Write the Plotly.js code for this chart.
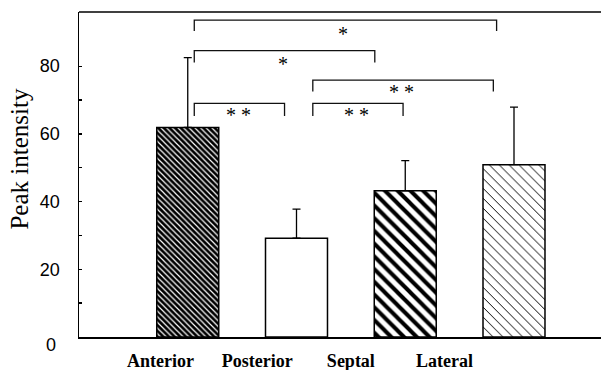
<!DOCTYPE html>
<html>
<head>
<meta charset="utf-8">
<script src="https://cdn.plot.ly/plotly-3.0.1.min.js"></script>
<style>html,body{margin:0;padding:0;background:#fff;overflow:hidden;width:601px;height:370px;}#chart{width:631px;height:370px;}</style>
</head>
<body>
<div id="chart"></div>
<script>
// ---- data ----
const categories = ['Anterior', 'Posterior', 'Septal', 'Lateral'];
const peakMean = [61.9, 29.2, 43.2, 50.9];
const peakSD = [20.6, 8.6, 8.9, 17.0];
// x-axis label positions as printed (offset from bars in the original)
const labelPos = [-0.25, 0.64, 1.50, 2.36];
const yTickVals = [0, 10, 20, 30, 40, 50, 60, 70, 80];
const yTickText = ['0', '', '20', '', '40', '', '60', '', '80'];
const yTitle = 'Peak intensity';
// significance brackets
const brLeft = [0.06, 0.06, 1.15, 0.06, 1.15];
const brRight = [2.84, 1.72, 2.81, 0.89, 1.98];
const brTop = [93.6, 84.6, 75.9, 69.0, 69.0];
const brLeg = [90.4, 81.1, 72.5, 65.3, 65.3];
const brMark = ['*', '*', '* *', '* *', '* *'];
const markX = [1.43, 0.88, 1.97, 0.47, 1.55];
const markY = [89.6, 80.7, 72.3, 65.6, 65.6];

// ---- styles ----
const patterns = [
  {shape: '\\', size: 4, solidity: 0.3, fgcolor: '#ffffff', bgcolor: '#000000', fillmode: 'overlay', fgopacity: 1},
  {shape: '', bgcolor: '#ffffff'},
  {shape: '\\', size: 9, solidity: 0.45, fgcolor: '#000000', bgcolor: '#ffffff', fillmode: 'overlay', fgopacity: 1},
  {shape: '\\', size: 7, solidity: 0.14, fgcolor: '#000000', bgcolor: '#ffffff', fillmode: 'overlay', fgopacity: 1}
];

const traces = categories.map((c, i) => ({
  type: 'bar',
  x: [i],
  y: [peakMean[i]],
  width: 0.57,
  name: c,
  marker: {color: '#ffffff', line: {color: '#000', width: 1.5}, pattern: patterns[i]},
  error_y: {type: 'data', symmetric: false, array: [peakSD[i]], arrayminus: [0], color: '#000', thickness: 1.3, width: 4},
  showlegend: false,
  hoverinfo: 'skip'
}));

const shapes = brLeft.map((l, i) => ({
  type: 'path', xref: 'x', yref: 'y',
  path: `M ${l} ${brLeg[i]} L ${l} ${brTop[i]} L ${brRight[i]} ${brTop[i]} L ${brRight[i]} ${brLeg[i]}`,
  line: {color: '#111', width: 1.3}
}));
// top frame line
shapes.push({type: 'line', xref: 'paper', yref: 'paper', x0: 0, x1: 1, y0: 1, y1: 1, line: {color: '#000', width: 1.5}});

const annotations = brMark.map((m, i) => ({
  xref: 'x', yref: 'y', x: markX[i], y: markY[i], text: m, showarrow: false,
  font: {family: 'Liberation Serif, Times New Roman, serif', size: 20, color: '#000'},
  xanchor: 'center', yanchor: 'middle'
}));
annotations.push({
  xref: 'paper', yref: 'y', x: 0, y: yTickVals[0], text: yTickText[0], showarrow: false,
  xanchor: 'right', yanchor: 'middle', xshift: -21, yshift: -8,
  font: {family: 'Liberation Sans, Arial, sans-serif', size: 18, color: '#000'}
});
annotations.push({
  xref: 'paper', yref: 'paper', x: -79 / 532 * 1.0 + (20 / 532), y: 0.549, text: yTitle, showarrow: false,
  textangle: -90, xanchor: 'center', yanchor: 'middle',
  font: {family: 'Liberation Serif, Times New Roman, serif', size: 25, color: '#000'}
});

const layout = {
  width: 631, height: 370,
  margin: {l: 79, r: 20, t: 12, b: 33},
  paper_bgcolor: '#fff', plot_bgcolor: '#fff',
  barmode: 'overlay',
  xaxis: {
    range: [-1.0, 3.892], showgrid: false, zeroline: false,
    showline: true, linecolor: '#000', linewidth: 1.5, mirror: false,
    tickvals: labelPos, ticktext: categories, ticks: '',
    ticklabelstandoff: 7,
    tickfont: {family: 'Liberation Serif, Times New Roman, serif', size: 18, color: '#000', weight: 'bold'},
    automargin: false, fixedrange: true
  },
  yaxis: {
    range: [0, 96], showgrid: false, zeroline: false,
    showline: true, linecolor: '#000', linewidth: 1.5,
    tickvals: yTickVals, ticktext: yTickText.map((t, i) => i === 0 ? '' : t),
    ticks: 'inside', ticklen: 3, tickwidth: 1.3, tickcolor: '#000',
    ticklabelstandoff: 14,
    tickfont: {family: 'Liberation Sans, Arial, sans-serif', size: 18, color: '#000'},
    automargin: false, fixedrange: true
  },
  shapes: shapes,
  annotations: annotations
};

Plotly.newPlot('chart', traces, layout, {displayModeBar: false, staticPlot: true});
</script>
</body>
</html>
